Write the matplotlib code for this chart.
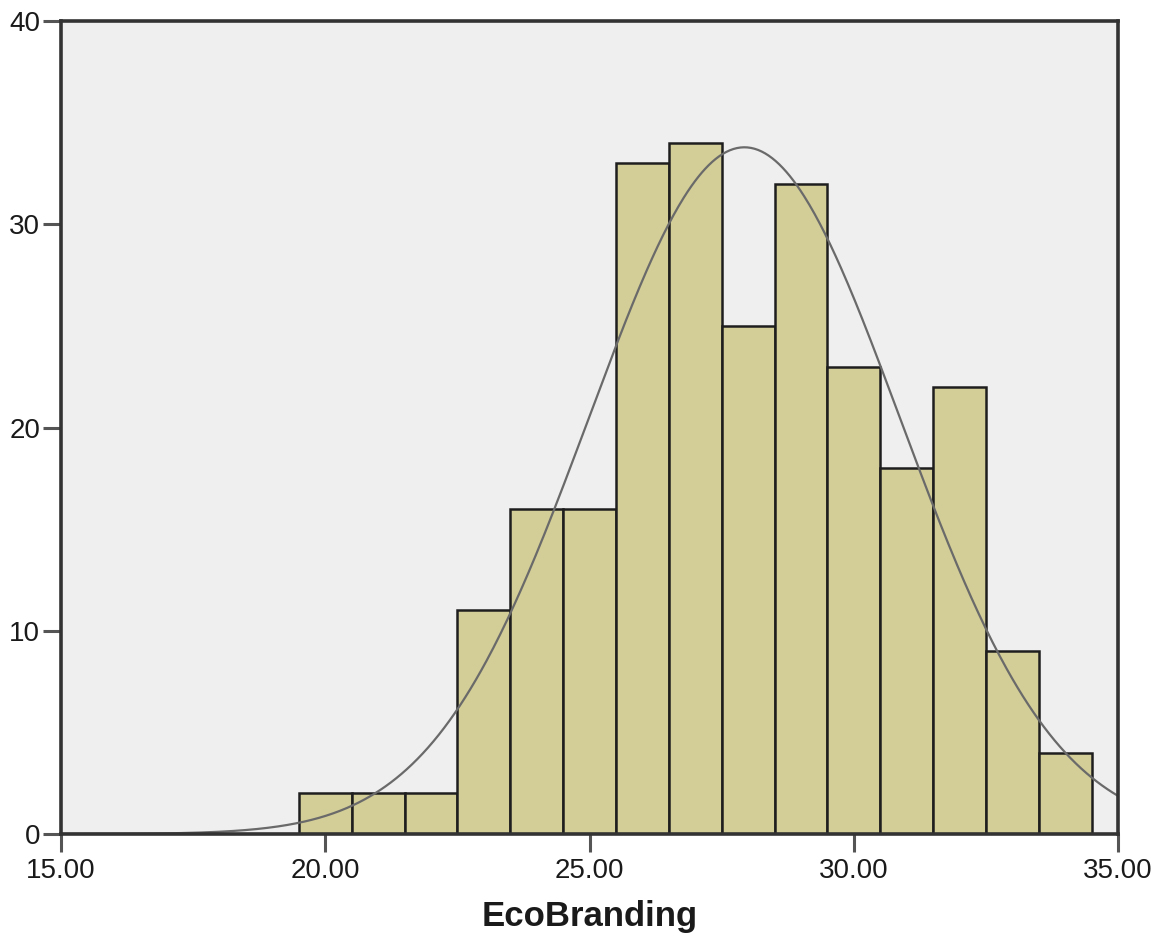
import numpy as np
import matplotlib
matplotlib.use("Agg")
import matplotlib.pyplot as plt

# Histogram of EcoBranding scores (bin centres and frequencies)
bin_centers = [20, 21, 22, 23, 24, 25, 26, 27, 28, 29, 30, 31, 32, 33, 34]
counts = [2, 2, 2, 11, 16, 16, 33, 34, 25, 32, 23, 18, 22, 9, 4]
bin_width = 1.0

# Fitted normal curve parameters
curve_mean = 27.93
curve_sd = 2.94

x_ticks = [15, 20, 25, 30, 35]
x_tick_labels = ["15.00", "20.00", "25.00", "30.00", "35.00"]
y_ticks = [0, 10, 20, 30, 40]

plt.rcParams["font.family"] = ["Liberation Sans", "DejaVu Sans"]

fig = plt.figure(figsize=(11.65, 9.39), dpi=100)
ax = fig.add_axes([0.0524, 0.1118, 0.9073, 0.8658])
ax.set_facecolor("#efefef")

ax.bar(bin_centers, counts, width=bin_width, color="#d3ce97",
       edgecolor="#1e1e1e", linewidth=1.8, zorder=2)

n_total = sum(counts)
xs = np.linspace(15, 35, 600)
ys = n_total * bin_width / (curve_sd * np.sqrt(2 * np.pi)) * \
    np.exp(-0.5 * ((xs - curve_mean) / curve_sd) ** 2)
ax.plot(xs, ys, color="#6a6a6a", linewidth=1.6, zorder=3)

ax.set_xlim(15, 35)
ax.set_ylim(0, 40)
ax.set_xticks(x_ticks)
ax.set_xticklabels(x_tick_labels)
ax.set_yticks(y_ticks)

for side in ["left", "right", "top", "bottom"]:
    ax.spines[side].set_linewidth(2.6)
    ax.spines[side].set_color("#333333")
    ax.spines[side].set_zorder(4)

ax.tick_params(axis="both", direction="out", length=13, width=2.2,
               color="#555555", labelsize=20, labelcolor="#1a1a1a")
ax.tick_params(axis="x", pad=4)
ax.tick_params(axis="y", pad=2)

ax.set_xlabel("EcoBranding", fontsize=25, fontweight="bold",
              color="#1a1a1a", labelpad=12)

fig.savefig("out.png", dpi=100, facecolor="white")
